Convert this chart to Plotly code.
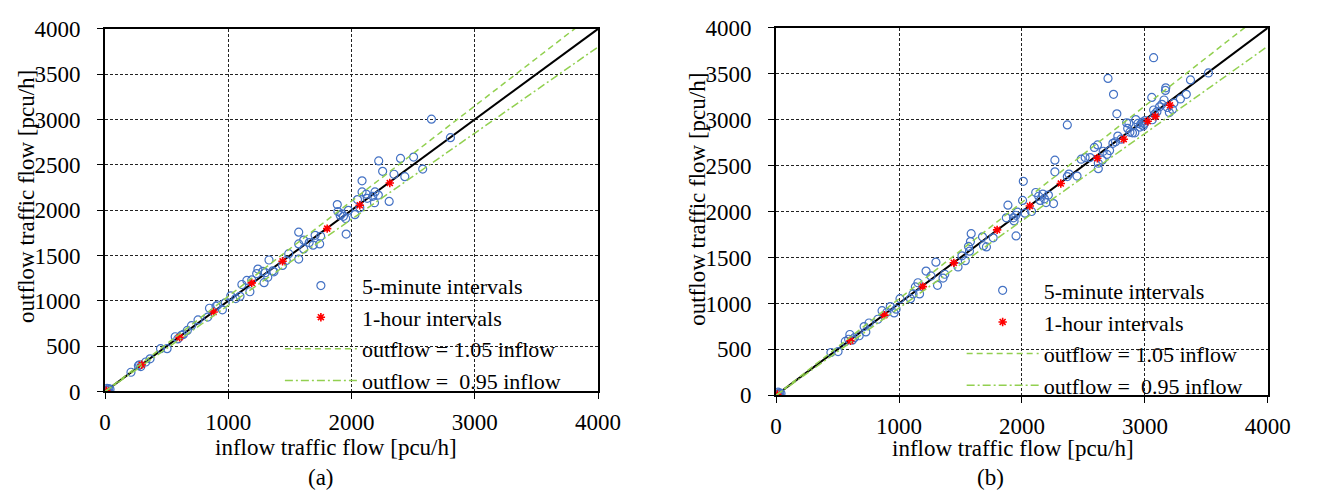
import plotly.graph_objects as go

# ---------------- data ----------------
# panel (a)
a_5min_in = [0, 10, 20, 30, 40, 15,
             210, 270, 280, 290, 330, 365, 450, 503,
             569, 590, 620, 635, 667, 701, 754,
             833, 847, 913, 952, 974, 900,
             1020, 1060, 1095, 1110, 1150, 1175, 1190, 1230, 1240, 1280, 1290, 1300, 1320, 1330, 1360, 1370,
             1440, 1470, 1490,
             1571, 1571, 1571, 1611, 1611, 1656, 1688, 1704, 1741, 1749,
             1884, 1889, 1908, 1934, 1952, 1974, 1956, 2027, 2048, 2067, 1920,
             2085, 2085, 2119, 2127, 2172, 2190, 2186, 2217, 2220, 2252, 2305, 2344, 2397, 2432, 2503,
             2577, 2648, 2802]
a_5min_out = [0, 15, 10, 30, 25, 35,
              212, 285, 295, 275, 325, 360, 472, 472,
              604, 580, 620, 629, 674, 726, 789,
              821, 918, 954, 901, 978, 940,
              1055, 1025, 1050, 1180, 1225, 1100, 1230, 1300, 1350, 1325, 1200, 1310, 1260, 1450, 1330, 1320,
              1390, 1445, 1520,
              1757, 1628, 1460, 1670, 1572, 1642, 1614, 1722, 1628, 1712,
              2061, 1984, 1942, 1932, 1908, 1998, 1736, 1950, 2117, 2026, 1960,
              2323, 2201, 2176, 2131, 2152, 2201, 2082, 2166, 2543, 2428, 2096, 2396, 2571, 2369, 2585,
              2453, 3004, 2799]
a_1h_in = [10, 297, 604, 881, 1190, 1440, 1802, 2067, 2310]
a_1h_out = [10, 295, 597, 876, 1198, 1436, 1796, 2054, 2299]

# panel (b)
b_5min_in = [0, 10, 20, 30, 40, 15,
             446, 504, 563, 600, 637, 676, 716, 756, 730, 590, 620,
             828, 862, 902, 929, 960, 976, 1008,
             1093, 1114, 1133, 1154, 1167, 1220, 1260, 1300, 1313, 1358, 1372, 1480, 1512, 1539,
             1573, 1581, 1587, 1565, 1679, 1687, 1711, 1766,
             1873, 1886, 1931, 1950, 1963, 1952, 1936, 2005, 2011, 2024, 2078, 2112, 2136, 2148, 2170,
             2183, 2196, 2215, 2257, 2268, 2268, 2369, 2382, 2448, 2369,
             2482, 2514, 2554, 2589, 2621, 2621, 2653, 2692, 2713, 2615, 2661, 2740, 2761, 2780, 2806,
             2700, 2745, 2772,
             2851, 2860, 2878, 2899, 2918, 2926, 2944, 2966, 2979, 2987, 2997, 2870, 2960, 3000,
             3056, 3071, 3071, 3098, 3119, 3138, 3156, 3170, 3167, 3199, 3183, 3225, 3236, 3289, 3337,
             3371, 3517, 3060, 3080]
b_5min_out = [0, 15, 10, 25, 20, 35,
              466, 476, 586, 662, 627, 648, 748, 787, 690, 610, 600,
              828, 921, 904, 966, 897, 938, 1052,
              1052, 1104, 1180, 1225, 1104, 1352, 1300, 1449, 1197, 1276, 1318, 1397, 1518, 1466,
              1569, 1673, 1760, 1621, 1725, 1628, 1615, 1714,
              1932, 2070, 1932, 1960, 1994, 1735, 1898, 2122, 2329, 1983, 2001, 2208, 2167, 2122, 2191,
              2139, 2098, 2180, 2087, 2560, 2433, 2381, 2408, 2387, 2943,
              2570, 2588, 2588, 2698, 2467, 2526, 2560, 2622, 2664, 2726, 2657, 2743, 2760, 2822, 2788,
              3450, 3277, 3064,
              2967, 2905, 2864, 2857, 2857, 3002, 2960, 2950, 2974, 2933, 2960, 2960, 2920, 2990,
              3243, 3675, 3106, 3088, 3140, 3168, 3215, 3347, 3319, 3078, 3133, 3112, 3181, 3226, 3277,
              3433, 3509, 3000, 3060]
b_1h_in = [10, 605, 881, 1194, 1446, 1798, 2064, 2316, 2613, 2828, 3023, 3085, 3204]
b_1h_out = [10, 593, 873, 1183, 1442, 1801, 2060, 2305, 2581, 2788, 2984, 3036, 3157]

line_x = [0, 4000]
ratio_equal = 1.0
ratio_upper = 1.05
ratio_lower = 0.95

x_ticks = [0, 1000, 2000, 3000, 4000]
y_ticks = [0, 500, 1000, 1500, 2000, 2500, 3000, 3500, 4000]
panel_labels = ["(a)", "(b)"]
x_title = "inflow traffic flow [pcu/h]"
y_title = "outflow traffic flow [pcu/h]"

# ---------------- figure ----------------
FONT = "Liberation Serif"
FS = 23
LFS = 22
BLUE = "#4472C4"
GREEN = "#92D050"

# positions are given in reference-image pixels (1327 x 504) and turned into paper fractions,
# the figure itself fills the whole browser viewport
RW, RH = 1327, 504


def px(x):
    return x / RW


def py(y):
    return 1 - y / RH


fig = go.Figure()

panels = [
    ("x", "y", "legend", a_5min_in, a_5min_out, a_1h_in, a_1h_out),
    ("x2", "y2", "legend2", b_5min_in, b_5min_out, b_1h_in, b_1h_out),
]

for xa, ya, lg, fin, fout, hin, hout in panels:
    fig.add_trace(go.Scatter(
        x=line_x, y=[ratio_equal * v for v in line_x], xaxis=xa, yaxis=ya,
        mode="lines", line=dict(color="black", width=2), showlegend=False,
        hoverinfo="skip"))
    fig.add_trace(go.Scatter(
        x=fin, y=fout, xaxis=xa, yaxis=ya, mode="markers", name="5-minute intervals",
        legend=lg,
        marker=dict(symbol="circle-open", size=8, color=BLUE, line=dict(width=1.2, color=BLUE))))
    fig.add_trace(go.Scatter(
        x=hin, y=hout, xaxis=xa, yaxis=ya, mode="markers", name="1-hour intervals",
        legend=lg,
        marker=dict(symbol="asterisk-open", size=7, color="red", line=dict(width=1.6, color="red"))))
    fig.add_trace(go.Scatter(
        x=line_x, y=[ratio_upper * v for v in line_x], xaxis=xa, yaxis=ya, mode="lines",
        name="outflow = 1.05 inflow", legend=lg,
        line=dict(color=GREEN, width=1.5, dash="6px,4px")))
    fig.add_trace(go.Scatter(
        x=line_x, y=[ratio_lower * v for v in line_x], xaxis=xa, yaxis=ya, mode="lines",
        name="outflow =  0.95 inflow", legend=lg,
        line=dict(color=GREEN, width=1.5, dash="8px,3px,2px,3px")))

axis_common = dict(
    showline=True, linecolor="black", linewidth=2, mirror=True,
    showgrid=True, gridcolor="#222", gridwidth=1, griddash="3px,2px",
    zeroline=False, ticks="outside", ticklen=6, tickcolor="black", tickwidth=1,
    tickfont=dict(family=FONT, size=FS, color="black"),
    range=[0, 4000], fixedrange=True,
)
xt = dict(axis_common, ticklabelstandoff=3)
yt = dict(axis_common, ticklabelstandoff=12)


def ann(text, x, y, angle=0):
    return dict(text=text, x=px(x), y=py(y), xref="paper", yref="paper", textangle=angle,
                xanchor="center", yanchor="middle", showarrow=False,
                font=dict(family=FONT, size=FS, color="black"))


fig.update_layout(
    autosize=True,
    margin=dict(l=0, r=0, t=0, b=0),
    paper_bgcolor="white", plot_bgcolor="white",
    font=dict(family=FONT, size=FS, color="black"),
    xaxis=dict(xt, domain=[px(101.3), px(605.3)], anchor="y", tickvals=x_ticks),
    yaxis=dict(yt, domain=[py(399.3), py(17.7)], anchor="x", tickvals=y_ticks),
    xaxis2=dict(xt, domain=[px(787.3), px(1290)], anchor="y2", tickvals=x_ticks),
    yaxis2=dict(yt, domain=[py(403.3), py(16.7)], anchor="x2", tickvals=y_ticks),
    legend=dict(x=px(280), y=py(266), xanchor="left", yanchor="top",
                bgcolor="rgba(0,0,0,0)", font=dict(family=FONT, size=LFS),
                itemwidth=72, traceorder="normal"),
    legend2=dict(x=px(977), y=py(271), xanchor="left", yanchor="top",
                 bgcolor="rgba(0,0,0,0)", font=dict(family=FONT, size=LFS),
                 itemwidth=72, traceorder="normal"),
    annotations=[
        ann(y_title, 21, 194, -90),
        ann(y_title, 707, 197, -90),
        ann(x_title, 337, 458),
        ann(x_title, 1029, 459),
        ann(panel_labels[0], 322, 490),
        ann(panel_labels[1], 1006, 490),
    ],
)

fig.write_html("out.html", default_width="100vw", default_height="100vh")
